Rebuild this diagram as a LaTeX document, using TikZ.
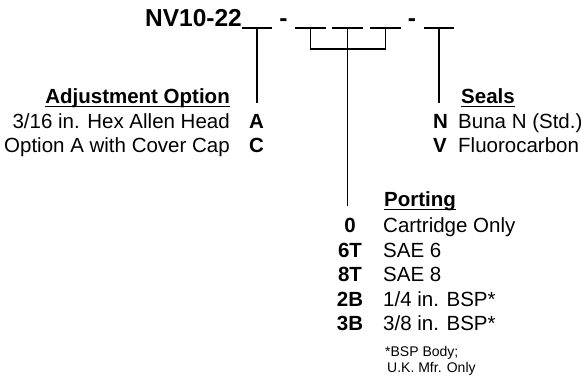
\documentclass[tikz,border=0pt]{standalone}
\usepackage{fontspec}
\setmainfont{Liberation Sans}
\usepackage{tikz}
\usetikzlibrary{calc}

\begin{document}
\begin{tikzpicture}[x=1pt,y=-1pt]
    \tikzstyle{wire}=[draw,line width = 1.3pt,-,black!100]
    \tikzstyle{blank}=[inner sep=0pt,minimum width=30pt,minimum height=0pt]
    \tikzstyle{title}=[inner sep=0pt,font=\fontsize{24.5}{26}\selectfont\bfseries]
    \tikzstyle{txt}=[inner sep=0pt,font=\fontsize{20.5}{22}\selectfont]
    \tikzstyle{code}=[inner sep=0pt,font=\fontsize{20.5}{22}\selectfont\bfseries]
    \tikzstyle{hdr}=[inner sep=0pt,font=\fontsize{20.5}{22}\selectfont\bfseries]
    \tikzstyle{note}=[inner sep=0pt,font=\fontsize{14}{16}\selectfont]
    \useasboundingbox (0,0) rectangle (581,381);
    % part number
    \node[title,anchor=base east] (pn) at (242,26) {NV10-22};
    \node[title,anchor=base] (d1) at (283.5,26) {-};
    \node[title,anchor=base] (d2) at (412,26) {-};
    \node[blank] (b1) at (257,28) {};
    \node[blank] (b2) at (310.5,28) {};
    \node[blank] (b3) at (347.5,28) {};
    \node[blank] (b4) at (385.5,28) {};
    \node[blank] (b5) at (439,28) {};
    \draw[wire] (b1.west) -- (b1.east);
    \draw[wire] (b2.west) -- (b2.east);
    \draw[wire] (b3.west) -- (b3.east);
    \draw[wire] (b4.west) -- (b4.east);
    \draw[wire] (b5.west) -- (b5.east);
    % adjustment option
    \node[hdr,anchor=base east] (adj) at (230,103) {Adjustment Option};
    \draw[wire] ([yshift=-3.5pt]adj.base west) -- ([yshift=-3.5pt]adj.base east);
    \node[txt,anchor=base east] (adja) at (230,128) {3/16 in. Hex Allen Head};
    \node[txt,anchor=base east] (adjc) at (230,152) {Option A with Cover Cap};
    \node[code,anchor=base west] (ca) at (249,128) {A};
    \node[code,anchor=base west] (cc) at (249,152) {C};
    % seals
    \node[hdr,anchor=base west] (seal) at (461,103) {Seals};
    \draw[wire] ([yshift=-3.5pt]seal.base west) -- ([yshift=-3.5pt]seal.base east);
    \node[code,anchor=base west] (cn) at (433,128) {N};
    \node[code,anchor=base west] (cv) at (433,152) {V};
    \node[txt,anchor=base west] (sn) at (458,128) {Buna N (Std.)};
    \node[txt,anchor=base west] (sv) at (458,152) {Fluorocarbon};
    % porting
    \node[hdr,anchor=base west] (port) at (384,206) {Porting};
    \draw[wire] ([yshift=-3.5pt]port.base west) -- ([yshift=-3.5pt]port.base east);
    \node[code,anchor=base] (p0) at (350,232.5) {0};
    \node[code,anchor=base] (p6) at (350,257) {6T};
    \node[code,anchor=base] (p8) at (350,281.5) {8T};
    \node[code,anchor=base] (p2) at (350,306) {2B};
    \node[code,anchor=base] (p3) at (350,330.5) {3B};
    \node[txt,anchor=base west] (t0) at (383,232.5) {Cartridge Only};
    \node[txt,anchor=base west] (t6) at (383,257) {SAE 6};
    \node[txt,anchor=base west] (t8) at (383,281.5) {SAE 8};
    \node[txt,anchor=base west] (t2) at (383,306) {1/4 in. BSP*};
    \node[txt,anchor=base west] (t3) at (383,330.5) {3/8 in. BSP*};
    \node[note,anchor=base west] (n1) at (385,356) {*BSP Body;};
    \node[note,anchor=base west] (n2) at (387,372.5) {U.K. Mfr. Only};
    % leaders
    \coordinate (bar) at (348,49);
    \draw[wire] (b1.center) -- (b1.center |- adj.base);
    \draw[wire] (b2.center) |- (bar) -| (b4.center);
    \draw[wire] (b3.center) -- (b3.center |- port.base);
    \draw[wire] (b5.center) -- (b5.center |- seal.base);
\end{tikzpicture}
\end{document}
